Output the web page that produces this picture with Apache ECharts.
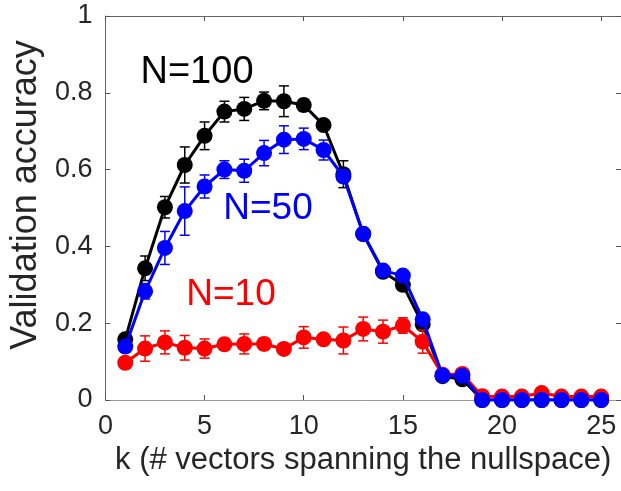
<!DOCTYPE html>
<html>
<head>
<meta charset="utf-8">
<script src="https://cdn.jsdelivr.net/npm/echarts@6/dist/echarts.min.js"></script>
<style>
  html, body { margin: 0; padding: 0; background: #ffffff; }
  #chart { width: 621px; height: 491px; }
</style>
</head>
<body>
<div id="chart"></div>
<script>
// k = number of vectors spanning the nullspace
const kValues = [1, 2, 3, 4, 5, 6, 7, 8, 9, 10, 11, 12, 13, 14, 15, 16, 17, 18, 19, 20, 21, 22, 23, 24, 25];

// mean validation accuracy and its spread for each training-set size N
const accN100 = [0.158, 0.343, 0.502, 0.612, 0.688, 0.751, 0.758, 0.779, 0.778, 0.768, 0.716, 0.588, 0.432, 0.334, 0.300, 0.197, 0.062, 0.054, 0, 0, 0, 0, 0, 0, 0];
const errN100 = [0.012, 0.032, 0.028, 0.047, 0.036, 0.027, 0.030, 0.023, 0.040, 0.015, 0.010, 0.035, 0.010, 0.010, 0.010, 0.012, 0.005, 0.004, 0.003, 0.003, 0.003, 0.003, 0.003, 0.003, 0.003];

const accN50 = [0.139, 0.283, 0.396, 0.492, 0.556, 0.600, 0.597, 0.643, 0.678, 0.680, 0.651, 0.582, 0.433, 0.337, 0.324, 0.210, 0.064, 0.063, 0, 0, 0, 0, 0, 0, 0];
const errN50 = [0.010, 0.020, 0.043, 0.063, 0.030, 0.023, 0.030, 0.033, 0.036, 0.028, 0.026, 0.012, 0.010, 0.008, 0.008, 0.010, 0.004, 0.004, 0.004, 0.004, 0.004, 0.004, 0.004, 0.004, 0.004];

const accN10 = [0.097, 0.134, 0.150, 0.136, 0.134, 0.145, 0.146, 0.146, 0.133, 0.163, 0.158, 0.155, 0.185, 0.178, 0.194, 0.152, 0.066, 0.068, 0.010, 0.009, 0.009, 0.018, 0.009, 0.009, 0.009];
const errN10 = [0.010, 0.033, 0.030, 0.032, 0.025, 0.015, 0.026, 0.015, 0.010, 0.028, 0.012, 0.035, 0.031, 0.030, 0.020, 0.030, 0.010, 0.010, 0.005, 0.005, 0.005, 0.005, 0.005, 0.005, 0.005];

// axis ticks
const xTicks = [0, 5, 10, 15, 20, 25];
const yTicks = [0, 0.2, 0.4, 0.6, 0.8, 1];

const FONT = '"Liberation Sans", Arial, Helvetica, sans-serif';
const TEXT = '#262626';

const groups = [
  { name: 'N=100', color: '#000000', acc: accN100, err: errN100 },
  { name: 'N=10',  color: '#ff0000', acc: accN10,  err: errN10 },
  { name: 'N=50',  color: '#0000ff', acc: accN50,  err: errN50 }
];

function errorBarSeries(g, z) {
  return {
    type: 'custom',
    name: g.name + ' error',
    z: z,
    data: kValues.map((x, i) => [x, g.acc[i] - g.err[i], g.acc[i] + g.err[i]]),
    encode: { x: 0, y: [1, 2] },
    renderItem: function (params, api) {
      const x = api.value(0);
      const lo = api.coord([x, api.value(1)]);
      const hi = api.coord([x, api.value(2)]);
      const cap = 5;
      const style = { stroke: g.color, lineWidth: 1.5, fill: null };
      return {
        type: 'group',
        children: [
          { type: 'line', shape: { x1: lo[0], y1: lo[1], x2: hi[0], y2: hi[1] }, style: style },
          { type: 'line', shape: { x1: lo[0] - cap, y1: lo[1], x2: lo[0] + cap, y2: lo[1] }, style: style },
          { type: 'line', shape: { x1: hi[0] - cap, y1: hi[1], x2: hi[0] + cap, y2: hi[1] }, style: style }
        ]
      };
    }
  };
}

function lineSeries(g, z) {
  return {
    type: 'line',
    name: g.name,
    z: z,
    data: kValues.map((x, i) => [x, g.acc[i]]),
    symbol: 'circle',
    symbolSize: 16,
    lineStyle: { color: g.color, width: 3 },
    itemStyle: { color: g.color },
    emphasis: { disabled: true }
  };
}

const series = [];
groups.forEach((g, idx) => {
  series.push(errorBarSeries(g, 2 + idx * 2));
  series.push(lineSeries(g, 3 + idx * 2));
});

const axisLineDark = { show: true, onZero: false, lineStyle: { color: '#666666', width: 1 } };
const tickStyle = { show: true, inside: true, length: 5, lineStyle: { color: '#555555', width: 1 } };

const chart = echarts.init(document.getElementById('chart'), null, { renderer: 'canvas' });
chart.setOption({
  animation: false,
  backgroundColor: '#ffffff',
  textStyle: { fontFamily: FONT },
  grid: { left: 101, top: 16, right: 0, bottom: 91, containLabel: false },
  xAxis: [
    {
      type: 'value', position: 'bottom', min: 0, max: 26, interval: 5,
      axisLine: { show: true, onZero: false, lineStyle: { color: '#999999', width: 1 } },
      axisTick: Object.assign({}, tickStyle, { customValues: xTicks }),
      axisLabel: { customValues: xTicks, fontSize: 27, color: TEXT, margin: 13, fontFamily: FONT },
      splitLine: { show: false },
      name: 'k (# vectors spanning the nullspace)',
      nameLocation: 'middle', nameGap: 44,
      nameTextStyle: { fontSize: 31, color: TEXT, fontFamily: FONT }
    },
    {
      type: 'value', position: 'top', min: 0, max: 26, interval: 5,
      axisLine: axisLineDark,
      axisTick: Object.assign({}, tickStyle, { customValues: xTicks }),
      axisLabel: { show: false },
      splitLine: { show: false }
    }
  ],
  yAxis: [
    {
      type: 'value', position: 'left', min: 0, max: 1, interval: 0.2,
      axisLine: axisLineDark,
      axisTick: Object.assign({}, tickStyle, { customValues: yTicks }),
      axisLabel: { customValues: yTicks, fontSize: 27, color: TEXT, margin: 13, fontFamily: FONT },
      splitLine: { show: false },
      name: 'Validation accuracy',
      nameLocation: 'middle', nameGap: 53,
      nameTextStyle: { fontSize: 36, color: TEXT, fontFamily: FONT, padding: [0, 0, 0, 26] }
    },
    {
      type: 'value', position: 'right', min: 0, max: 1, interval: 0.2,
      axisLine: axisLineDark,
      axisTick: Object.assign({}, tickStyle, { customValues: yTicks }),
      axisLabel: { show: false },
      splitLine: { show: false }
    }
  ],
  graphic: [
    { type: 'text', x: 197, y: 73, z: 20, style: { text: 'N=100', fill: '#000000', font: '38px ' + FONT, textAlign: 'center', textVerticalAlign: 'middle' } },
    { type: 'text', x: 268, y: 209, z: 20, style: { text: 'N=50', fill: '#0000ff', font: '37px ' + FONT, textAlign: 'center', textVerticalAlign: 'middle' } },
    { type: 'text', x: 231, y: 295, z: 20, style: { text: 'N=10', fill: '#ff0000', font: '37px ' + FONT, textAlign: 'center', textVerticalAlign: 'middle' } }
  ],
  series: series
});
</script>
</body>
</html>
